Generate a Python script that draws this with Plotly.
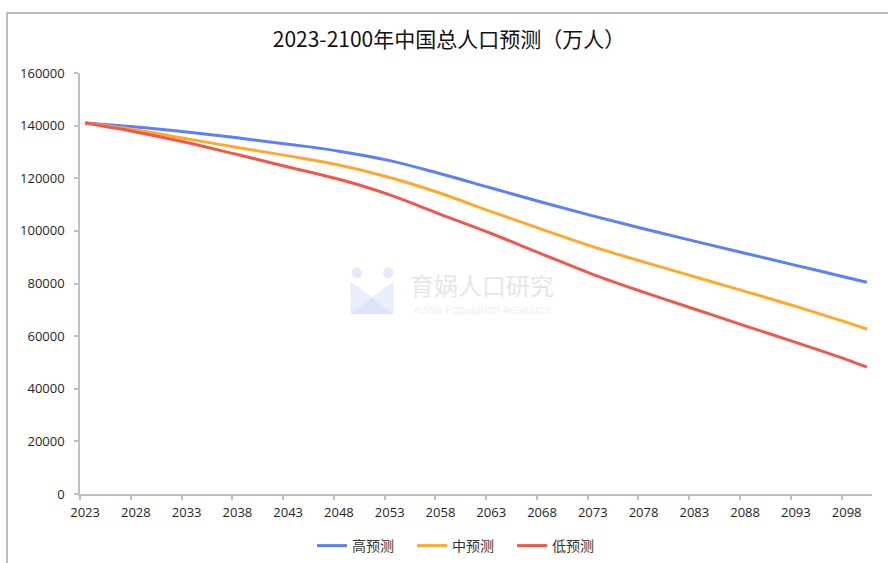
import plotly.graph_objects as go

# ---------------- data ----------------
years = [2023, 2028, 2033, 2038, 2043, 2048, 2053, 2058, 2063, 2068,
         2073, 2078, 2083, 2088, 2093, 2098, 2100]
high = [140967, 139450, 137550, 135350, 132950, 130300, 126700, 121700, 116300,
        110900, 105700, 100800, 96100, 91500, 86900, 82300, 80450]
mid = [140967, 138300, 135000, 131700, 128500, 125000, 120300, 114300, 107300,
       100600, 94000, 88200, 82600, 77000, 71300, 65200, 62700]
low = [140967, 137600, 133600, 129000, 124300, 119600, 113700, 106300, 99000,
       91200, 83500, 76700, 70300, 63900, 57600, 51100, 48200]

series_names = ["高预测", "中预测", "低预测"]
tick_years = list(range(2023, 2100, 5))
tick_labels = [str(y) for y in tick_years]
boundary_ticks = [y - 0.5 for y in tick_years]
y_ticks = list(range(0, 160001, 20000))
y_labels = [str(v) for v in y_ticks]

title_text = "2023-2100年中国总人口预测（万人）"

# ---------------- layout helpers (pixel -> paper) ----------------
W, H = 888, 563
PL, PR, PT, PB = 80, 872, 73, 494


def px(x):
    return (x - PL) / (PR - PL)


def py(y):
    return (PB - y) / (PB - PT)


colors = ["#5B80FB", "#FFA92B", "#F0584B"]

fig = go.Figure()
for name, vals, c in zip(series_names, [high, mid, low], colors):
    fig.add_trace(go.Scatter(
        x=years, y=vals, name=name, mode="lines",
        line=dict(color=c, width=3, shape="spline", smoothing=1.0),
        hoverinfo="x+y+name",
    ))

# invisible helper trace on the tick axis so it is drawn
fig.add_trace(go.Scatter(x=[2022.5], y=[0], xaxis="x2", mode="markers",
                         marker=dict(opacity=0), showlegend=False,
                         hoverinfo="skip"))

tick_font = dict(family="Open Sans, Lato, sans-serif", size=13, color="#262626")

fig.update_layout(
    width=W, height=H,
    margin=dict(l=PL, r=W - PR, t=PT, b=H - PB, pad=0, autoexpand=False),
    paper_bgcolor="white", plot_bgcolor="white",
    title=dict(text=title_text, x=px(449), xref="paper", xanchor="center",
               y=1 - 40 / H, yref="container", yanchor="middle",
               font=dict(family="Noto Sans CJK SC, sans-serif", size=21,
                         color="#111111")),
    xaxis=dict(range=[2022.5, 2100.5], tickvals=tick_years, ticktext=tick_labels,
               ticks="", showgrid=False, zeroline=False, showline=True,
               linecolor="#BFBFBF", linewidth=1.5, tickfont=tick_font,
               ticklabelstandoff=6, fixedrange=True),
    xaxis2=dict(range=[2022.5, 2100.5], overlaying="x", side="bottom",
                tickvals=boundary_ticks, showticklabels=False, ticks="outside",
                ticklen=5, tickcolor="#BFBFBF", tickwidth=1.5, showgrid=False,
                zeroline=False, showline=False, anchor="y", fixedrange=True),
    yaxis=dict(range=[0, 160000], tickvals=y_ticks, ticktext=y_labels,
               ticks="outside", ticklen=4,
               tickcolor="#BFBFBF", tickwidth=1.5, showgrid=False, zeroline=False,
               showline=True, linecolor="#BFBFBF", linewidth=1.5,
               tickfont=tick_font, ticklabelstandoff=7, fixedrange=True),
    legend=dict(orientation="h", x=px(462), xanchor="center", y=py(546),
                yanchor="middle", font=dict(family="Noto Sans CJK SC, sans-serif",
                                             size=14, color="#333333"),
                itemwidth=30, entrywidth=55, tracegroupgap=0,
                bgcolor="rgba(0,0,0,0)"),
    showlegend=True,
)

# outer chart frame (extends past right and bottom of the window)
fig.add_shape(type="rect", xref="paper", yref="paper",
              x0=px(7), x1=px(895), y0=py(570), y1=py(13),
              line=dict(color="#A6A6A6", width=1.5), layer="below")

# watermark logo
fig.add_shape(type="circle", xref="paper", yref="paper",
              x0=px(351.5), x1=px(362), y0=py(278), y1=py(267.5),
              fillcolor="#E4E9FC", line=dict(width=0), layer="below")
fig.add_shape(type="circle", xref="paper", yref="paper",
              x0=px(383), x1=px(393.5), y0=py(278), y1=py(267.5),
              fillcolor="#E4E9FC", line=dict(width=0), layer="below")
path = "M {} {} L {} {} L {} {} L {} {} L {} {} Z".format(
    px(350.5), py(281.5), px(372), py(297), px(393.5), py(281.5),
    px(393.5), py(314), px(350.5), py(314))
fig.add_shape(type="path", xref="paper", yref="paper", path=path,
              fillcolor="#EAEEFC", line=dict(width=0), layer="below")
path2 = "M {} {} L {} {} L {} {} Z".format(
    px(350.5), py(314), px(372), py(298), px(393.5), py(314))
fig.add_shape(type="path", xref="paper", yref="paper", path=path2,
              fillcolor="#DDE3FA", line=dict(width=0), layer="below")

fig.add_annotation(text="育娲人口研究", xref="paper", yref="paper",
                   x=px(482), y=py(284), showarrow=False,
                   font=dict(family="Noto Sans CJK SC, sans-serif", size=24,
                             color="#E6E6E6"))
fig.add_annotation(text="YuWa Population Research", xref="paper", yref="paper",
                   x=px(482), y=py(310), showarrow=False,
                   font=dict(family="Inter, sans-serif", size=11,
                             color="#EFEFEF"))

fig.write_html("out.html",
               config={"displayModeBar": False},
               post_script="document.body.style.margin='0px';"
                           "document.body.style.overflow='hidden';")
